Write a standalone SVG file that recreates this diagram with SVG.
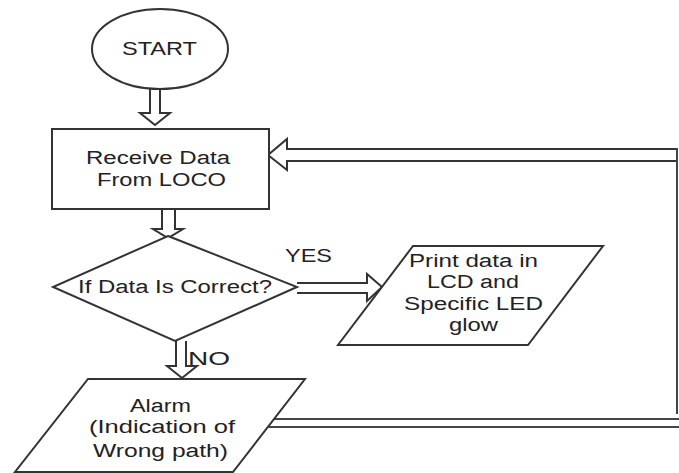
<svg xmlns="http://www.w3.org/2000/svg" width="679" height="473" viewBox="0 0 679 473">
<style>
.shape{fill:#fff;stroke:#333;stroke-width:2}
.arr{fill:#fff;stroke:#333;stroke-width:2;stroke-linejoin:miter}
.line{fill:none;stroke:#444;stroke-width:2}
text{font-family:"Liberation Sans",Arial,sans-serif;font-size:18px;fill:#222}
</style>
<rect width="679" height="473" fill="#fff"/>
<g id="connectors">
<path class="arr" d="M150,89 V113 H140 L155,125 L170,113 H160 V89"/>
<path class="arr" d="M162,209 V229 H153 L168,238 L183,229 H175 V209"/>
<path class="arr" d="M297,283 H367 V274 L382,287 L367,301 V293 H297"/>
<path class="arr" d="M176,341 V366 H167 L182,378 L197,366 H186 V341"/>
<path class="arr" d="M677,149 H287 V139 L268,155 L287,170 V161 H677"/>
<path class="line" d="M677,148 V414"/>
<path class="line" d="M269,419 H679 M269,427 H679 M269,419 V427"/>
</g>
<g id="start">
<ellipse class="shape" cx="160" cy="49" rx="68" ry="40"/>
<text x="122" y="55" textLength="75" lengthAdjust="spacingAndGlyphs">START</text>
</g>
<g id="receive">
<rect class="shape" x="52" y="129" width="217" height="80"/>
<text x="86" y="164" textLength="144" lengthAdjust="spacingAndGlyphs">Receive Data</text>
<text x="97" y="186" textLength="129" lengthAdjust="spacingAndGlyphs">From LOCO</text>
</g>
<g id="decision">
<polygon class="shape" points="168,236 297,287 175,341 53,287"/>
<text x="78" y="293" textLength="194" lengthAdjust="spacingAndGlyphs">If Data Is Correct?</text>
</g>
<g id="yes-label">
<text x="285" y="262" textLength="47" lengthAdjust="spacingAndGlyphs">YES</text>
</g>
<g id="no-label">
<text x="188" y="365" textLength="42" lengthAdjust="spacingAndGlyphs">NO</text>
</g>
<g id="print">
<polygon class="shape" points="413,246 603,246 528,345 338,345"/>
<text x="409" y="267" textLength="129" lengthAdjust="spacingAndGlyphs">Print data in</text>
<text x="427" y="288" textLength="92" lengthAdjust="spacingAndGlyphs">LCD and</text>
<text x="404" y="310" textLength="139" lengthAdjust="spacingAndGlyphs">Specific LED</text>
<text x="449" y="331" textLength="49" lengthAdjust="spacingAndGlyphs">glow</text>
</g>
<g id="alarm">
<polygon class="shape" points="88,379 305,379 233,472 15,472"/>
<text x="130" y="412" textLength="61" lengthAdjust="spacingAndGlyphs">Alarm</text>
<text x="89" y="433" textLength="146" lengthAdjust="spacingAndGlyphs">(Indication of</text>
<text x="93" y="457" textLength="135" lengthAdjust="spacingAndGlyphs">Wrong path)</text>
</g>
</svg>
